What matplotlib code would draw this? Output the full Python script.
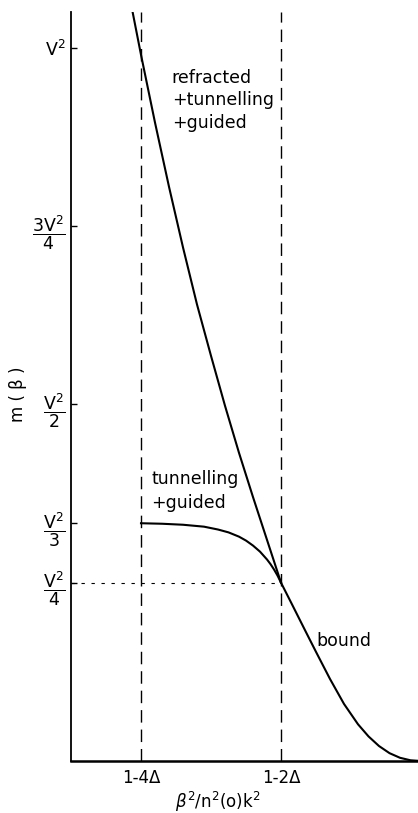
import numpy as np
import matplotlib.pyplot as plt

plt.rcParams['font.family'] = 'DejaVu Sans'
plt.rcParams['mathtext.fontset'] = 'dejavusans'

# x in units of Delta: beta^2/n^2(0)k^2 = 1 + t*Delta ; y in units of V^2
# refracted + tunnelling + guided
t_upper = [-4.12, -4.0, -3.8, -3.6, -3.4, -3.2, -3.0, -2.8, -2.6, -2.4, -2.2, -2.0]
m_upper = [1.050, 0.990, 0.895, 0.805, 0.720, 0.640, 0.568, 0.498, 0.432, 0.370, 0.310, 0.250]

# tunnelling + guided
t_tunnel = [-4.0, -3.7, -3.4, -3.1, -2.9, -2.75, -2.6, -2.5, -2.4, -2.3, -2.2, -2.15, -2.1, -2.05, -2.0]
m_tunnel = [0.3333, 0.3326, 0.3312, 0.3285, 0.3245, 0.3205, 0.3145, 0.309, 0.302, 0.2935,
            0.2825, 0.276, 0.2685, 0.260, 0.250]

# bound
t_bound = [-2.0, -1.85, -1.65, -1.5, -1.3, -1.1, -0.9, -0.75, -0.6, -0.45, -0.3, -0.15, 0.0]
m_bound = [0.250, 0.221, 0.182, 0.153, 0.115, 0.080, 0.0515, 0.0345, 0.021, 0.011, 0.0045, 0.001, 0.0]

yticks = [1.0, 0.75, 0.5, 1/3, 0.25]
ytick_labels = [r'$\mathrm{V}^2$', r'$\dfrac{3\mathrm{V}^2}{4}$', r'$\dfrac{\mathrm{V}^2}{2}$',
                r'$\dfrac{\mathrm{V}^2}{3}$', r'$\dfrac{\mathrm{V}^2}{4}$']
xticks = [-4, -2]
xtick_labels = ['1-4Δ', '1-2Δ']

fig = plt.figure(figsize=(4.18, 8.13), dpi=100)
ax = fig.add_axes([71/418, 52/813, 350/418, 749/813])

ax.plot(t_upper, m_upper, color='black', lw=1.5, solid_joinstyle='round')
ax.plot(t_tunnel, m_tunnel, color='black', lw=1.5, solid_joinstyle='round')
ax.plot(t_bound, m_bound, color='black', lw=1.5, clip_on=False, solid_joinstyle='round')

# guide lines
for xv in xticks:
    ax.plot([xv, xv], [0, 1.05], color='black', lw=1.0, dashes=(9, 5))
ax.plot([-5, -2], [0.25, 0.25], color='black', lw=0.8, dashes=(3, 6))

ax.set_xlim(-5, 0)
ax.set_ylim(0, 1.05)
ax.spines['top'].set_visible(False)
ax.spines['right'].set_visible(False)
ax.spines['left'].set_linewidth(1.3)
ax.spines['bottom'].set_linewidth(1.8)

ax.set_yticks(yticks)
ax.set_yticklabels(ytick_labels, fontsize=12.5)
ax.set_xticks(xticks)
ax.set_xticklabels(xtick_labels, fontsize=12)
ax.tick_params(axis='y', direction='in', length=4, width=1, pad=4)
ax.tick_params(axis='x', direction='in', length=0, pad=6)

ax.set_ylabel('m ( β )', fontsize=12)
ax.yaxis.set_label_coords(-0.125, 0.49)
ax.set_xlabel(r'$\mathit{\beta}^2$/n$^2$(o)k$^2$', fontsize=12)
ax.xaxis.set_label_coords(0.42, -0.039)

# annotations, one line at a time (baseline positions)
for s, yb in [('refracted', 0.951), ('+tunnelling', 0.919), ('+guided', 0.888)]:
    ax.text(-3.56, yb, s, fontsize=12.5, va='baseline', ha='left')
for s, yb in [('tunnelling', 0.388), ('+guided', 0.355)]:
    ax.text(-3.85, yb, s, fontsize=12.5, va='baseline', ha='left')
ax.text(-1.49, 0.1615, 'bound', fontsize=12.5, va='baseline', ha='left')

fig.savefig('out.png', dpi=100)
